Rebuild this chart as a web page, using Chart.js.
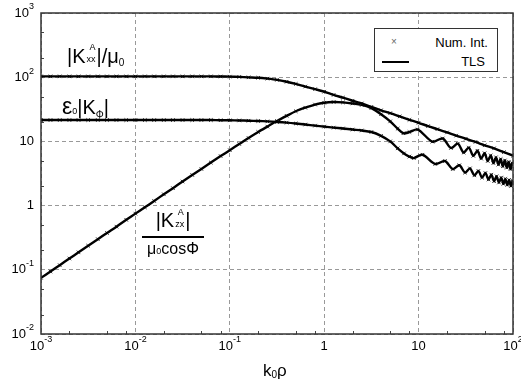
<!DOCTYPE html>
<html>
<head>
<meta charset="UTF-8">
<title>K vs k0rho</title>
<script src="https://cdn.jsdelivr.net/npm/chart.js"></script>
<style>
  body { margin: 0; background: #fff; font-family: 'Liberation Sans', Arial, sans-serif; }
  #wrap { position: relative; width: 521px; height: 385px; }
  .lab { position: absolute; white-space: nowrap; color: #000; line-height: 1; }
  .stk { display: inline-flex; flex-direction: column; font-size: 9px; line-height: 1; vertical-align: top; margin: 0 1px; }
  .sub { font-size: 10px; }
  #legend { position: absolute; left: 374px; top: 28px; width: 122px; height: 42px; border: 1px solid #333; background: #fff; font-size: 13px; }
</style>
</head>
<body>
<div id="wrap">
  <canvas id="chart" width="521" height="385"></canvas>

  <div class="lab" style="left:67px;top:46px;font-size:20px">|K<span class="stk" style="margin-top:-3px"><span style="padding-left:3px">A</span><span style="margin-top:3px">xx</span></span>|/μ<span class="sub" style="vertical-align:-3px">0</span></div>
  <div class="lab" style="left:62px;top:95px;font-size:20px"><span style="font-size:23px">ε</span><span class="sub" style="font-size:9px">0</span>|K<span class="sub" style="vertical-align:-4px">Φ</span>|</div>

  <div class="lab" style="left:142px;top:210px;width:62px;text-align:center;font-size:20px">|K<span class="stk" style="margin-top:-2px"><span style="padding-left:2px">A</span><span style="margin-top:3px">zx</span></span>|</div>
  <div style="position:absolute;left:142px;top:236px;width:62px;height:2px;background:#000"></div>
  <div class="lab" style="left:142px;top:241px;width:62px;text-align:center;font-size:16px">μ<span style="font-size:9px">0</span>cosΦ</div>

  <div class="lab" style="left:263px;top:362px;font-size:17px">k<span style="font-size:10px;vertical-align:-2px">0</span>ρ</div>

  <div id="legend">
    <span class="lab" style="left:16px;top:8px;font-size:10px;color:#666">×</span>
    <span class="lab" style="right:9px;top:7px">Num. Int.</span>
    <span style="position:absolute;left:7px;top:32px;width:27px;height:1.5px;background:#000"></span>
    <span class="lab" style="right:12px;top:26px">TLS</span>
  </div>
</div>

<script>
// sample positions along k0*rho shared by the smooth part of all curves
const kr = [0.001, 0.00126, 0.00158, 0.002, 0.0025, 0.00316, 0.004, 0.005, 0.0063, 0.008,
  0.01, 0.0126, 0.0158, 0.02, 0.025, 0.0316, 0.04, 0.05, 0.063, 0.08,
  0.1, 0.126, 0.158, 0.2, 0.25, 0.316, 0.4, 0.5, 0.63, 0.8,
  1, 1.26, 1.58, 2, 2.5, 3.16, 4, 5];

// |Kxx^A| / mu0
const kxxHead = [103, 103, 103, 103, 103, 103, 103, 103, 103, 103,
  103, 103, 103, 103, 103, 103, 103, 103, 103, 102.5,
  102, 101, 99.5, 98, 95, 91, 85, 78.5, 71.5, 65,
  59.5, 53, 48, 43, 39, 34.5, 30.5, 27.5];
const kxxTailX = [6.3, 8, 10, 12.6, 15.8, 20, 25, 31.6, 40, 50, 63, 80, 100];
const kxxTail = [24.5, 21.7, 19.5, 17.3, 15.5, 13.8, 12.3, 11.0, 9.8, 8.7, 7.8, 6.8, 6.0];

// eps0 |K_phi|
const kphiHead = [21.5, 21.5, 21.5, 21.5, 21.5, 21.5, 21.5, 21.5, 21.5, 21.5,
  21.5, 21.5, 21.5, 21.5, 21.5, 21.5, 21.5, 21.5, 21.5, 21.4,
  21.3, 21.2, 21.0, 20.8, 20.5, 20.1, 19.6, 19.0, 18.3, 17.6,
  17.0, 16.4, 15.9, 15.3, 14.8, 14.0, 12.2, 10.0];
const kphiTailX = [6, 7, 8, 8.9, 11, 15, 19, 23, 27, 31, 35, 39, 43, 47, 51, 55, 59, 63, 67, 71, 75, 79, 83, 87, 91, 95, 99, 100];
const kphiTail = [7.8, 6.5, 5.8, 5.5, 6.2, 4.45, 4.95, 3.7, 4.25, 3.27, 3.8, 2.96, 3.47, 2.73, 3.22, 2.55, 3.03, 2.4, 2.86, 2.29, 2.73, 2.18, 2.61, 2.1, 2.51, 2.02, 2.42, 2.35];

// |Kzx^A| / (mu0 cos phi)
const kzxHead = [0.075, 0.094, 0.118, 0.15, 0.187, 0.237, 0.30, 0.375, 0.47, 0.60,
  0.75, 0.94, 1.18, 1.5, 1.87, 2.37, 3.0, 3.72, 4.68, 5.9,
  7.3, 9.1, 11.3, 14.0, 17.0, 20.8, 25, 29.5, 33.5, 37.5,
  40, 41, 40.5, 39, 37, 33, 26.5, 20.5];
const kzxTailX = [6, 6.9, 8, 9.8, 14, 18, 22, 26, 30, 34, 38, 42, 46, 50, 54, 58, 62, 66, 70, 74, 78, 82, 86, 90, 94, 98, 100];
const kzxTail = [15.8, 13.4, 14.0, 15.3, 9.9, 11.1, 7.9, 9.2, 6.7, 8.0, 5.95, 7.15, 5.4, 6.55, 4.95, 6.05, 4.6, 5.65, 4.35, 5.3, 4.1, 5.05, 3.9, 4.8, 3.7, 4.6, 4.3];

const xTicks = [0.001, 0.01, 0.1, 1, 10, 100];
const xTickLabels = ['10^-3', '10^-2', '10^-1', '1', '10', '10^2'];
const yTicks = [0.01, 0.1, 1, 10, 100, 1000];
const yTickLabels = ['10^-2', '10^-1', '1', '10', '10^2', '10^3'];

function pts(xs, ys) {
  return xs.map((x, i) => ({ x: x, y: ys[i] }));
}

const curves = [
  pts(kr.concat(kxxTailX), kxxHead.concat(kxxTail)),
  pts(kr.concat(kphiTailX), kphiHead.concat(kphiTail)),
  pts(kr.concat(kzxTailX), kzxHead.concat(kzxTail))
];

const datasets = [];
curves.forEach(c => {
  datasets.push({ label: 'TLS', data: c, borderColor: '#000', borderWidth: 2.4, pointRadius: 0, tension: 0.3, fill: false });
  datasets.push({ label: 'Num. Int.', data: c, showLine: false, pointStyle: 'crossRot', pointRadius: 2.5,
    pointBorderWidth: 1, borderColor: '#333', backgroundColor: '#333' });
});

function drawPow(ctx, text, x, y, align) {
  const parts = text.split('^');
  ctx.font = '13px "Liberation Sans", Arial, sans-serif';
  const wb = ctx.measureText(parts[0]).width;
  let ws = 0;
  if (parts[1]) {
    ctx.font = '9px "Liberation Sans", Arial, sans-serif';
    ws = ctx.measureText(parts[1]).width;
  }
  const total = wb + ws;
  let x0 = align === 'right' ? x - total : x - total / 2;
  ctx.textAlign = 'left';
  ctx.textBaseline = 'middle';
  ctx.font = '13px "Liberation Sans", Arial, sans-serif';
  ctx.fillText(parts[0], x0, y);
  if (parts[1]) {
    ctx.font = '9px "Liberation Sans", Arial, sans-serif';
    ctx.fillText(parts[1], x0 + wb, y - 6);
  }
}

const axisDecor = {
  id: 'axisDecor',
  afterDraw(chart) {
    const { ctx, chartArea: a, scales: { x, y } } = chart;
    ctx.save();
    ctx.strokeStyle = '#444';
    ctx.lineWidth = 1;
    ctx.beginPath();
    // minor ticks pointing into the plot
    xTicks.slice(0, -1).forEach(d => {
      [2, 5, 8].forEach(m => {
        const px = Math.round(x.getPixelForValue(d * m)) + 0.5;
        ctx.moveTo(px, a.bottom); ctx.lineTo(px, a.bottom - 3);
      });
    });
    yTicks.slice(0, -1).forEach(d => {
      [2, 5].forEach(m => {
        const py = Math.round(y.getPixelForValue(d * m)) + 0.5;
        ctx.moveTo(a.left, py); ctx.lineTo(a.left + 3, py);
      });
    });
    ctx.stroke();

    ctx.lineWidth = 1.5;
    ctx.strokeStyle = '#333';
    ctx.strokeRect(a.left, a.top, a.right - a.left, a.bottom - a.top);

    ctx.fillStyle = '#000';
    xTicks.forEach((v, i) => drawPow(ctx, xTickLabels[i], x.getPixelForValue(v), a.bottom + 12, 'center'));
    yTicks.forEach((v, i) => drawPow(ctx, yTickLabels[i], a.left - 7, y.getPixelForValue(v), 'right'));
    ctx.restore();
  }
};

new Chart(document.getElementById('chart'), {
  type: 'line',
  data: { datasets: datasets },
  options: {
    responsive: false,
    animation: false,
    parsing: false,
    layout: { padding: { left: 41, right: 8, top: 13, bottom: 51 } },
    plugins: { legend: { display: false }, tooltip: { enabled: false } },
    scales: {
      x: {
        type: 'logarithmic', min: 0.001, max: 100,
        afterBuildTicks: s => { s.ticks = xTicks.map(v => ({ value: v })); },
        ticks: { display: false },
        grid: { color: '#999', lineWidth: 1, drawTicks: false },
        border: { display: false, dash: [4, 3] }
      },
      y: {
        type: 'logarithmic', min: 0.01, max: 1000,
        afterBuildTicks: s => { s.ticks = yTicks.map(v => ({ value: v })); },
        ticks: { display: false },
        grid: { color: '#999', lineWidth: 1, drawTicks: false },
        border: { display: false, dash: [4, 3] }
      }
    }
  },
  plugins: [axisDecor]
});
</script>
</body>
</html>
